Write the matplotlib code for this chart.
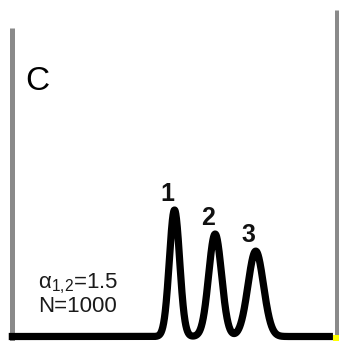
import numpy as np
import matplotlib
matplotlib.use("Agg")
import matplotlib.pyplot as plt
from matplotlib.patches import Rectangle

plt.rcParams['font.family'] = ['Liberation Sans', 'DejaVu Sans']
plt.rcParams['mathtext.fontset'] = 'custom'
plt.rcParams['mathtext.rm'] = 'Liberation Sans'
plt.rcParams['mathtext.default'] = 'regular'

# peak data (time in units of peak 1's retention)
peak_labels = ['1', '2', '3']
retention = [1.0, 1.25, 1.5]
heights = [1.0, 0.81, 0.675]
plate_count = 1000
panel_label = 'C'
info_text = 'α$_{1{,}2}$=1.5\nN=1000'

# pixel layout of the original panel
PX_T = 162.5      # pixels per time unit
PX_H = 126.5      # pixels per unit signal
X0, Y0 = 12, 336.5  # pixel position of t=0 / baseline
W, H = 339, 341

fig = plt.figure(figsize=(W / 100, H / 100), dpi=100)
ax = fig.add_axes([0, 0, 1, 1])
ax.set_xlim(-X0 / PX_T, (W - X0) / PX_T)
ax.set_ylim(-(H - Y0) / PX_H, Y0 / PX_H)
ax.axis('off')

t = np.linspace(-0.02, 1.975, 2000)
signal = np.zeros_like(t)
for tr, h in zip(retention, heights):
    sigma = tr / np.sqrt(plate_count)
    signal += h * np.exp(-0.5 * ((t - tr) / sigma) ** 2)

# frame lines
ax.vlines(0, -0.05, 2.44, color='#8a8a8a', lw=3.6, zorder=1)
ax.vlines(2.0, -0.05, 2.58, color='#8a8a8a', lw=3.6, zorder=1)

ax.plot(t, signal, color='black', lw=5.2, solid_capstyle='butt',
        solid_joinstyle='round', zorder=3)
ax.add_patch(Rectangle((1.975, -0.04), 0.04, 0.05, color='#ffff00',
                       lw=0, zorder=4))

for lab, tr, h in zip(peak_labels, retention, heights):
    ax.text(tr - 0.045, h + 0.07, lab, fontsize=18, fontweight='bold',
            ha='center', va='baseline', color='#111111')

ax.text(0.08, 1.95, panel_label, fontsize=24, ha='left', va='baseline',
        color='black')
ax.text(0.16, (Y0 - 312) / PX_H, info_text, fontsize=16, ha='left',
        va='baseline', color='#1a1a1a', linespacing=1.0)

fig.savefig('out.png', dpi=100)
